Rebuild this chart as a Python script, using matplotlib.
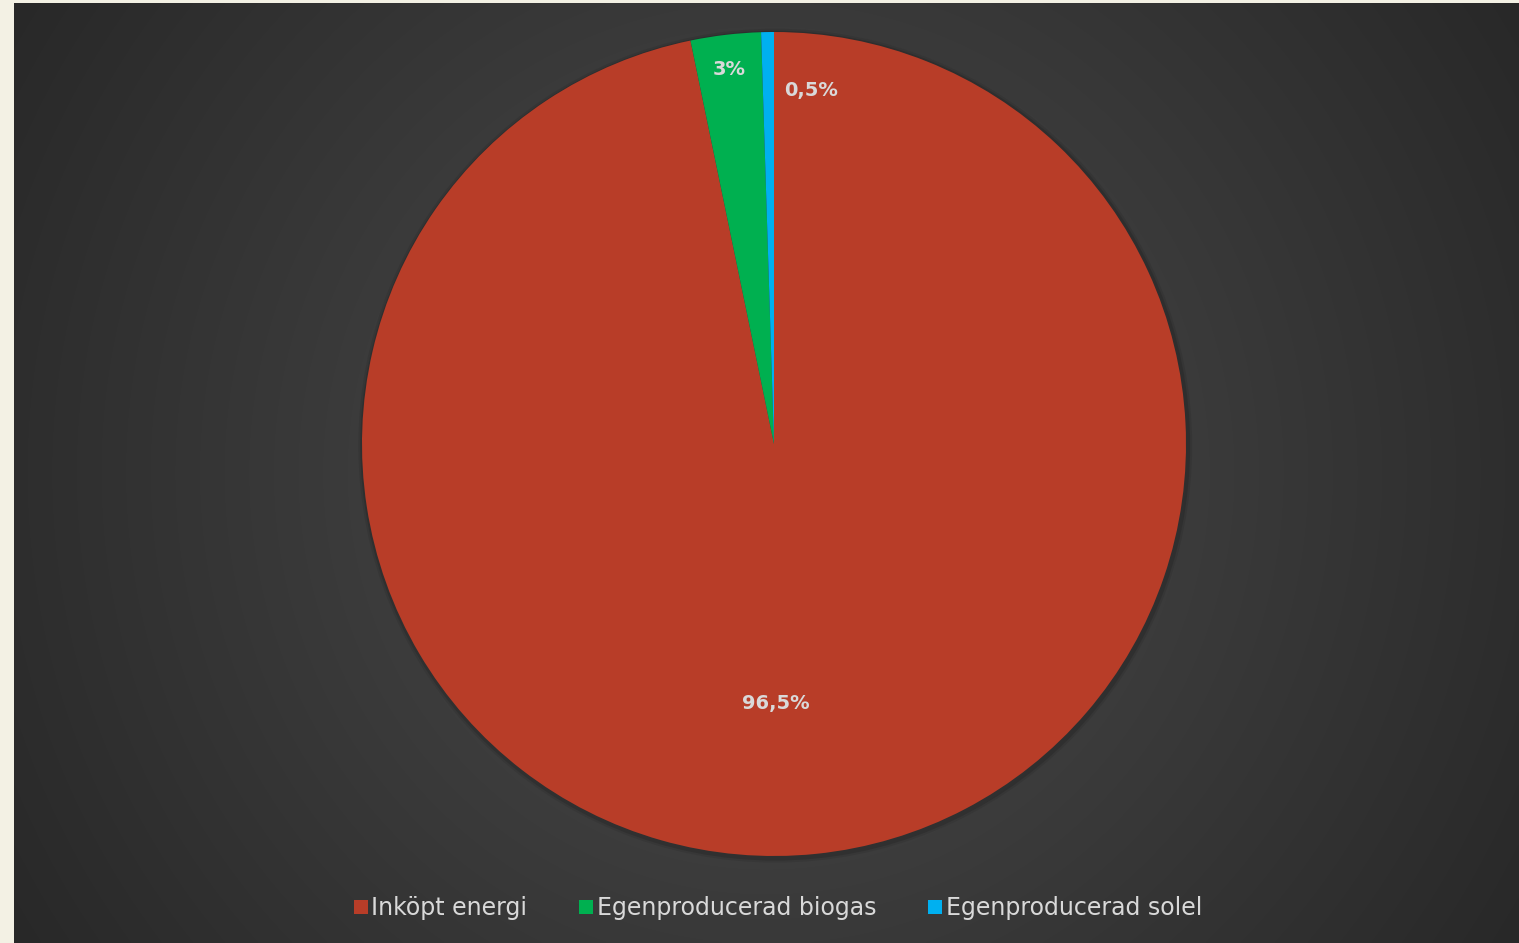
import numpy as np
import matplotlib.pyplot as plt

# andel energi
kategorier = ['Inköpt energi', 'Egenproducerad biogas', 'Egenproducerad solel']
andel = [96.75, 2.75, 0.5]          # uppmätt ur bilden (tårtbitarnas storlek)
etiketter = ['96,5%', '3%', '0,5%']  # dataetiketter som de står i diagrammet
farger = ['#B83D28', '#00B050', '#00B0F0']
# etikettlägen (i pajens koordinater)
etikett_pos = [(0.005, -0.631), (-0.109, 0.908), (0.09, 0.857)]

W, H = 1519, 943
fig = plt.figure(figsize=(W / 100, H / 100), dpi=100)
fig.patch.set_facecolor('#F3F1E4')

# bakgrund med radiell gradient
bg = fig.add_axes([14 / W, 0, (W - 14) / W, (H - 3) / H])
yy, xx = np.mgrid[-1:1:400j, -1:1:640j]
r = np.sqrt(xx ** 2 + (yy * 0.62) ** 2)
r = np.clip(r / 1.18, 0, 1)
inner = np.array([0x4C, 0x4C, 0x4C]) / 255
outer = np.array([0x28, 0x28, 0x28]) / 255
img = inner[None, None, :] * (1 - r[..., None]) + outer[None, None, :] * r[..., None]
bg.imshow(img, aspect='auto', extent=[0, 1, 0, 1], interpolation='bilinear')
bg.set_axis_off()

# pajen
ax = fig.add_axes([362 / W, 87 / H, 824 / W, 824 / H])
for rr, a in [(1.012, 0.12), (1.007, 0.2)]:
    ax.add_patch(plt.Circle((0.003, -0.004), rr, color='#151515', alpha=a,
                            zorder=0, clip_on=False, linewidth=0))
wedges, _ = ax.pie(andel, colors=farger, startangle=90, counterclock=False,
                   radius=1, wedgeprops=dict(linewidth=0))
for w in wedges:
    w.set_zorder(1)
ax.set_xlim(-1, 1)
ax.set_ylim(-1, 1)
ax.set_aspect('equal')
ax.set_axis_off()

for txt, (px, py) in zip(etiketter, etikett_pos):
    ax.text(px, py, txt, ha='center', va='center', fontsize=14, fontweight='bold',
            color='#D9D9D9', family='DejaVu Sans', zorder=3)

# förklaring
handles = [plt.Line2D([], [], marker='s', linestyle='', markersize=10,
                      markerfacecolor=c, markeredgewidth=0) for c in farger]
leg = fig.legend(handles, kategorier, loc='center', bbox_to_anchor=(778 / W, 1 - 908 / H),
                 ncol=3, frameon=False, handlelength=0.6, handletextpad=0.15,
                 columnspacing=2.2, prop={'family': 'DejaVu Sans', 'size': 17})
for t in leg.get_texts():
    t.set_color('#D9D9D9')

fig.savefig('out.png', dpi=100, facecolor=fig.get_facecolor())
